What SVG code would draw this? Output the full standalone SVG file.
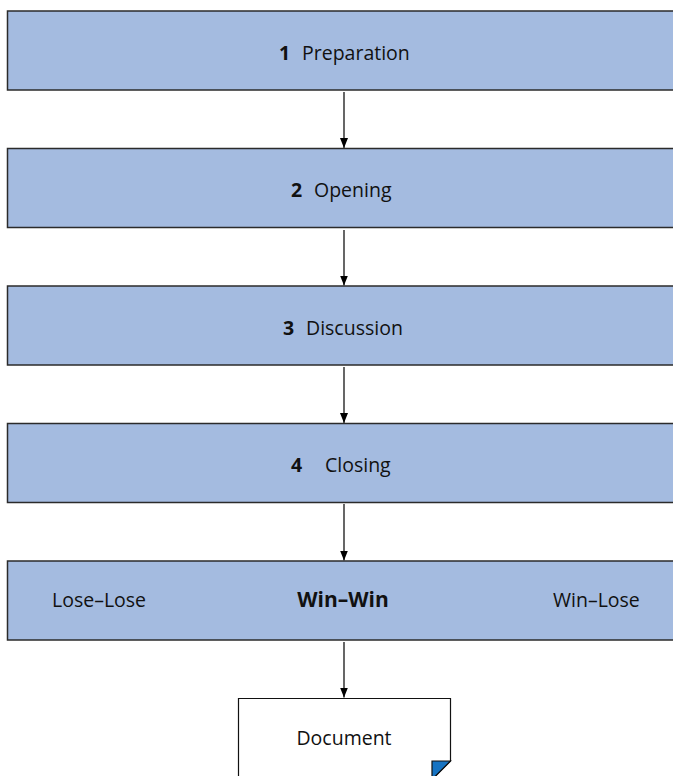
<svg xmlns="http://www.w3.org/2000/svg" width="673" height="776" viewBox="0 0 673 776">
<style>
.box{fill:#A4BBE0;stroke:#2b2b2b;stroke-width:1.5}
.t{font-family:"Open Sans","Liberation Sans",sans-serif;font-size:19.5px;fill:#111}
.b{font-weight:bold}
.c{stroke:#000;stroke-width:1.2;fill:none}
</style>
<defs>
<marker id="ah" markerWidth="10" markerHeight="8" refX="10" refY="4" orient="auto" markerUnits="userSpaceOnUse" viewBox="0 0 10 8">
<path d="M0,0 L10,4 L0,8 Z" fill="#000"/>
</marker>
</defs>
<rect width="673" height="776" fill="#fff"/>
<g id="connectors">
<line class="c" x1="344" y1="92" x2="344" y2="148" marker-end="url(#ah)"/>
<line class="c" x1="344" y1="230" x2="344" y2="285.5" marker-end="url(#ah)"/>
<line class="c" x1="344" y1="367" x2="344" y2="423" marker-end="url(#ah)"/>
<line class="c" x1="344" y1="504" x2="344" y2="560.5" marker-end="url(#ah)"/>
<line class="c" x1="344" y1="642" x2="344" y2="697.5" marker-end="url(#ah)"/>
</g>
<g id="n1">
<rect class="box" x="7.5" y="11" width="680" height="79"/>
<text class="t b" x="279" y="59.5">1</text>
<text class="t" x="302" y="59.5">Preparation</text>
</g>
<g id="n2">
<rect class="box" x="7.5" y="148.5" width="680" height="79"/>
<text class="t b" x="291" y="197">2</text>
<text class="t" x="314" y="197">Opening</text>
</g>
<g id="n3">
<rect class="box" x="7.5" y="286" width="680" height="79"/>
<text class="t b" x="283" y="334.5">3</text>
<text class="t" x="306" y="334.5">Discussion</text>
</g>
<g id="n4">
<rect class="box" x="7.5" y="423.5" width="680" height="79"/>
<text class="t b" x="291" y="472">4</text>
<text class="t" x="325" y="472">Closing</text>
</g>
<g id="n5">
<rect class="box" x="7.5" y="561" width="680" height="79"/>
<text class="t" x="52" y="607">Lose–Lose</text>
<text class="t b" x="343" y="607" text-anchor="middle" style="font-size:21px">Win–Win</text>
<text class="t" x="553" y="607">Win–Lose</text>
</g>
<g id="doc">
<path d="M238.5,790 V698.5 H450.5 V761 L432,779.5" fill="#fff" stroke="#111" stroke-width="1.2"/>
<path d="M432,761 H450.5 L432,779.5 Z" fill="#1673C2" stroke="#111" stroke-width="1.2"/>
<text class="t" x="344" y="745" text-anchor="middle">Document</text>
</g>
</svg>
